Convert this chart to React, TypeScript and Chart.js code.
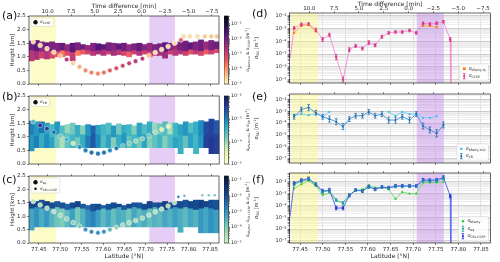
import React, { useEffect, useRef } from 'react';
import { Chart, registerables } from 'chart.js';

Chart.register(...registerables);
const FAMILY = 'DejaVu Sans';
Chart.defaults.font.family = FAMILY;
Chart.defaults.color = '#262626';

/* ---------------- data ---------------- */
const LAT_RANGE = [77.427, 77.871];
const LAT_TICKS = [77.45, 77.5, 77.55, 77.6, 77.65, 77.7, 77.75, 77.8, 77.85];
const TIME_TICKS = [10, 7.5, 5, 2.5, 0, -2.5, -5, -7.5];
const TIME_ZERO_LAT = 77.69;
const MIN_PER_DEG = 45.6;
const HEIGHT_RANGE = [0, 2.5];
const HEIGHT_TICKS = [0, 0.5, 1, 1.5, 2, 2.5];
const YELLOW_BAND = [77.431, 77.49];
const PURPLE_BAND = [77.708, 77.768];

// heat-map columns (latitude centres)
const COL_LAT = [77.433, 77.445, 77.457, 77.469, 77.481, 77.493, 77.505, 77.517, 77.529, 77.541, 77.553, 77.565, 77.577, 77.589, 77.601, 77.613, 77.625, 77.637, 77.649, 77.661, 77.673, 77.685, 77.697, 77.709, 77.721, 77.733, 77.745, 77.757, 77.769, 77.781, 77.793, 77.805, 77.817, 77.829, 77.841, 77.853, 77.865];

// panel (a) heat map: heights [km], log10 values
const A_TOP = [1.58, 1.60, 1.55, 1.52, 1.55, 1.50, 1.50, 1.45, 1.50, 1.52, 1.45, 1.42, 1.50, 1.48, 1.45, 1.52, 1.50, 1.48, 1.50, 1.45, 1.48, 1.50, 1.45, 1.50, 1.45, 1.48, 1.52, 1.50, 1.45, 1.55, 1.58, 1.52, 1.55, 1.62, 1.55, 1.60, 1.55];
const A_MID = [1.25, 1.22, 1.20, 1.25, 1.22, 1.20, 1.25, 1.22, 1.18, 1.25, 1.28, 1.25, 1.22, 1.25, 1.28, 1.22, 1.25, 1.28, 1.22, 1.20, 1.25, 1.22, 1.25, 1.20, 1.22, 1.25, 1.20, 1.25, 1.28, 1.25, 1.22, 1.28, 1.25, 1.22, 1.28, 1.25, 1.30];
const A_BOT = [0.85, 0.90, 0.95, 0.92, 0.95, 1.00, 1.00, 1.05, 0.85, 1.05, 1.10, 1.10, 1.05, 1.10, 1.05, 1.10, 1.05, 1.08, 1.05, 1.00, 1.10, 1.05, 1.10, 1.00, 1.05, 1.05, 0.95, 1.10, 1.05, 1.10, 1.05, 1.10, 1.10, 1.05, 1.10, 1.10, 1.15];
const A_VTOP = [-2.0, -1.8, -2.3, -1.9, -2.1, -2.2, -1.9, -2.4, -1.8, -2.1, -2.0, -2.4, -2.2, -1.7, -1.8, -2.1, -2.2, -1.8, -2.0, -2.4, -2.1, -1.9, -2.2, -2.4, -2.1, -2.0, -1.8, -2.2, -2.4, -2.1, -2.0, -1.8, -2.2, -2.0, -2.4, -2.1, -2.0];
const A_VBOT = [-2.8, -2.6, -3.0, -2.7, -3.1, -3.4, -3.7, -3.2, -2.9, -3.8, -3.4, -3.0, -2.8, -2.6, -2.7, -3.0, -2.6, -2.8, -3.1, -3.5, -3.0, -2.7, -3.0, -3.2, -2.8, -2.6, -2.5, -3.0, -2.8, -2.7, -3.0, -3.3, -2.9, -3.1, -3.4, -3.0, -3.2];

// panel (b) heat map
const B_TOP = [1.58, 1.55, 1.55, 1.50, 1.45, 1.55, 1.40, 1.45, 1.50, 1.42, 1.40, 1.45, 1.40, 1.42, 1.45, 1.50, 1.40, 1.48, 1.42, 1.45, 1.40, 1.50, 1.45, 1.55, 1.50, 1.48, 1.55, 1.50, 1.50, 1.45, 1.55, 1.50, 1.55, 1.60, 1.55, 1.65, 1.60];
const B_MID = [1.10, 1.05, 1.15, 1.10, 1.00, 1.10, 1.05, 1.15, 1.10, 1.00, 1.10, 1.05, 1.15, 1.10, 1.05, 1.10, 1.00, 1.10, 1.15, 1.05, 1.10, 1.00, 1.10, 1.05, 1.15, 1.10, 1.05, 1.10, 1.00, 1.10, 1.05, 1.15, 1.10, 1.05, 1.10, 1.00, 1.10];
const B_BOT = [0.48, 0.60, 0.60, 0.60, 0.60, 0.60, 0.60, 0.60, 0.60, 0.60, 0.60, 0.60, 0.60, 0.60, 0.60, 0.60, 0.60, 0.60, 0.60, 0.60, 0.60, 0.60, 0.60, 0.60, 0.60, 0.60, 0.60, 0.60, 0.60, 0.38, 0.60, 0.60, 0.38, 0.60, 0.60, 0.38, 0.38];
const B_VTOP = [-3.0, -3.2, -2.9, -3.3, -3.5, -3.2, -3.6, -4.0, -3.8, -3.4, -3.9, -3.2, -2.8, -3.3, -3.5, -3.6, -3.2, -3.8, -3.4, -3.5, -3.9, -3.3, -3.6, -3.4, -4.0, -3.8, -3.6, -4.1, -3.5, -3.3, -3.2, -3.6, -3.4, -3.1, -2.6, -2.5, -2.7];
const B_VBOT = [-3.2, -3.0, -3.4, -3.1, -3.3, -3.8, -4.1, -3.7, -3.5, -3.8, -3.4, -3.0, -2.7, -3.1, -3.6, -3.3, -3.9, -3.4, -3.2, -3.7, -3.5, -3.8, -3.3, -3.9, -3.7, -3.5, -3.9, -3.6, -3.3, -3.4, -3.7, -3.3, -3.5, -3.2, -2.5, -2.4, -2.5];

// panel (c) heat map
const C_TOP = [1.55, 1.55, 1.60, 1.55, 1.50, 1.55, 1.50, 1.45, 1.50, 1.55, 1.45, 1.40, 1.45, 1.45, 1.40, 1.45, 1.50, 1.45, 1.40, 1.45, 1.50, 1.50, 1.45, 1.55, 1.50, 1.50, 1.55, 1.50, 1.55, 1.55, 1.60, 1.55, 1.60, 1.60, 1.55, 1.60, 1.60];
const C_MID = [1.30, 1.35, 1.30, 1.25, 1.30, 1.35, 1.30, 1.25, 1.30, 1.35, 1.30, 1.25, 1.20, 1.25, 1.30, 1.25, 1.30, 1.35, 1.25, 1.30, 1.35, 1.30, 1.25, 1.30, 1.35, 1.30, 1.25, 1.30, 1.35, 1.30, 1.35, 1.30, 1.25, 1.30, 1.35, 1.30, 1.25];
const C_BOT = [0.48, 0.60, 0.60, 0.60, 0.60, 0.60, 0.60, 0.60, 0.60, 0.60, 0.60, 0.60, 0.60, 0.60, 0.60, 0.60, 0.60, 0.60, 0.60, 0.60, 0.60, 0.60, 0.60, 0.60, 0.60, 0.60, 0.60, 0.60, 0.60, 0.40, 0.60, 0.60, 0.60, 0.38, 0.38, 0.38, 0.38];
const C_VTOP = [-2.0, -1.9, -2.1, -1.8, -2.0, -2.2, -2.1, -2.3, -2.0, -1.9, -2.2, -2.4, -2.1, -2.0, -2.3, -2.1, -2.0, -1.9, -2.2, -2.0, -2.1, -2.2, -2.0, -1.9, -2.1, -2.0, -1.8, -2.0, -1.9, -2.0, -2.1, -1.9, -2.0, -1.8, -1.9, -2.0, -2.1];
const C_VBOT = [-3.3, -3.0, -3.4, -3.1, -3.5, -3.8, -4.0, -3.6, -3.2, -3.9, -3.5, -3.0, -2.8, -3.2, -3.6, -3.3, -3.7, -3.4, -3.5, -3.8, -3.3, -3.6, -3.4, -3.7, -3.5, -3.6, -3.3, -3.5, -3.2, -3.4, -3.6, -3.3, -3.5, -3.1, -3.3, -3.0, -3.2];

// flight-track points
const PT_LAT = [77.437, 77.453, 77.469, 77.485, 77.500, 77.515, 77.530, 77.545, 77.559, 77.573, 77.588, 77.602, 77.616, 77.631, 77.646, 77.661, 77.676, 77.692, 77.707, 77.722, 77.737, 77.752, 77.767, 77.782];
const PT_H = [1.55, 1.42, 1.30, 1.17, 1.03, 0.90, 0.76, 0.63, 0.50, 0.42, 0.38, 0.42, 0.50, 0.58, 0.67, 0.76, 0.84, 0.93, 1.04, 1.16, 1.27, 1.38, 1.50, 1.62];
const A_PT_LOG = [-4.6, -4.6, -4.6, -4.6, -4.3, -2.8, -4.6, -4.2, -3.9, -3.8, -3.8, -3.6, -3.4, -3.2, -3.0, -2.9, -2.8, -2.8, -4.4, -4.7, -4.7, -4.7, -4.7, -3.4];
const A_FLAT_LAT = [77.788, 77.803, 77.821, 77.838, 77.853, 77.866];
const A_FLAT_H = [1.75, 1.75, 1.75, 1.75, 1.75, 1.75];
const A_FLAT_LOG = [-4.7, -4.7, -4.7, -4.5, -4.5, -4.5];
const B_PT_LOG = [-3.6, -2.4, -2.5, -2.9, -3.8, -3.5, -4.3, -3.2, -3.0, -2.9, -2.9, -2.9, -3.1, -3.0, -3.7, -3.9, -4.0, -3.9, -3.8, -4.1, -4.5, -4.6];
const C_PT_LOG = [-4.6, -4.5, -4.4, -4.5, -4.4, -4.3, -4.2, -4.0, -3.0, -2.9, -2.9, -3.0, -3.6, -4.2, -4.4, -4.5, -4.5, -4.4, -4.5, -4.6, -4.5, -4.4, -4.5];
const C_SMALL_LAT = [77.776, 77.79, 77.832, 77.847, 77.861];
const C_SMALL_H = [1.72, 1.76, 1.78, 1.78, 1.78];
const C_SMALL_LOG = [-2.6, -3.6, -3.8, -3.9, -3.8];

// (d) sigma CCSP / bParty,iq  (log10 m^-1)
const D_CCSP_LAT = [77.428, ...PT_LAT, 77.7835];
const D_CCSP_LOG = [-5.36, -2.98, -2.68, -2.65, -3.11, -3.86, -3.5, -5.23, -6.99, -4.66, -4.36, -4.56, -4.11, -4.31, -3.65, -3.35, -3.28, -3.28, -3.16, -3.35, -2.6, -2.65, -2.6, -2.48, -3.86, -12];
const D_CCSP_ERR = [0, 0.12, 0.1, 0.1, 0.12, 0.15, 0.12, 0.2, 0.2, 0.15, 0.12, 0.12, 0.15, 0.12, 0.12, 0.1, 0.1, 0.1, 0.1, 0.1, 0.1, 0.1, 0.1, 0.1, 0.15, 0];
const D_IQ_LOG = [-3.35, -2.8, -2.73, -3.23, null, null, null, null, null, null, null, null, null, null, null, null, null, null, null, -2.8, -2.8, -2.9, null, null];

// (e) sigma CB / bParty,mix
const E_CB_LOG = [-3.46, -2.86, -2.69, -3.13, -3.46, -3.66, -3.88, -4.29, -3.66, -3.38, -3.38, -3.05, -3.38, -3.24, -3.74, -3.74, -3.46, -3.74, -3.24, -4.24, -4.57, -4.85, -4.15, null];
const E_CB_ERR = [0.2, 0.2, 0.25, 0.2, 0.2, 0.25, 0.25, 0.25, 0.2, 0.2, 0.2, 0.2, 0.2, 0.2, 0.25, 0.25, 0.2, 0.25, 0.2, 0.25, 0.25, 0.3, 0.25, 0];
const E_MIX_LOG = [-3.33, -3.24, -3.33, -3.2, -3.46, -3.05, null, null, null, null, null, null, null, null, -3.05, -3.38, -3.05, -3.24, -3.2, -3.55, -3.55, -3.43, null, null];

// (f) sigma CB+CCSP / eq / bParty
const F_CB_LAT = [77.428, ...PT_LAT, 77.7835];
const F_CB_LOG = [-4.93, -2.11, -1.86, -1.71, -2.2, -2.78, -2.69, -4.21, -4.21, -3.15, -2.69, -2.78, -2.4, -2.63, -2.43, -2.49, -2.34, -2.34, -2.34, -2.34, -1.83, -1.86, -1.83, -1.63, -3.2, -12];
const F_CB_ERR = [0, 0.12, 0.12, 0.12, 0.12, 0.15, 0.15, 0.15, 0.15, 0.12, 0.12, 0.12, 0.12, 0.12, 0.12, 0.12, 0.12, 0.12, 0.12, 0.12, 0.12, 0.12, 0.12, 0.15, 0.15, 0];
const F_EQ_LOG = [-2.2, -1.95, -1.8, -2.25, -2.85, -2.75, -3.55, -3.78, -3.1, -2.72, -2.75, -2.45, -2.6, -2.45, -2.52, -2.4, -2.38, -2.38, -2.36, -1.9, -1.92, -1.9, -1.72, null];
const F_EQ_ERR = [0.1, 0.1, 0.1, 0.1, 0.1, 0.1, 0.12, 0.12, 0.1, 0.1, 0.1, 0.1, 0.1, 0.1, 0.1, 0.1, 0.1, 0.1, 0.1, 0.1, 0.1, 0.1, 0.1, 0];
const F_BP_LOG = [-2.57, -2.2, -1.91, -2.34, -3.12, -2.92, -3.55, -3.84, -3.15, -2.72, -2.63, -2.29, -2.49, -2.49, -2.63, -3.44, -2.86, -3.0, -3.0, -2.06, -2.06, -2.06, -2.0, null];

/* ---------------- colour maps ---------------- */
const MAGMA_R = ['#fcfdbf', '#fec287', '#fb8761', '#e55064', '#b5367a', '#812581', '#4f127b', '#1c1044', '#000004'];
const YLGNBU = ['#ffffd9', '#edf8b1', '#c7e9b4', '#7fcdbb', '#41b6c4', '#1d91c0', '#225ea8', '#253494', '#081d58'];
const GNBU_D = ['#d5efcf', '#a6dbb8', '#6cc3bd', '#3a9fc4', '#2473b3', '#16488f', '#0e2a66', '#0a0f30'];

function hexRgb(h: string) { const n = parseInt(h.slice(1), 16); return [(n >> 16) & 255, (n >> 8) & 255, n & 255]; }
function cmapColor(stops: string[], t: number) {
  t = Math.min(1, Math.max(0, t));
  const p = t * (stops.length - 1);
  const i = Math.min(stops.length - 2, Math.floor(p));
  const f = p - i;
  const a = hexRgb(stops[i]), b = hexRgb(stops[i + 1]);
  return `rgb(${Math.round(a[0] + (b[0] - a[0]) * f)},${Math.round(a[1] + (b[1] - a[1]) * f)},${Math.round(a[2] + (b[2] - a[2]) * f)})`;
}

/* ---------------- text helpers ---------------- */
const SUP: any = { '-': '⁻', '0': '⁰', '1': '¹', '2': '²', '3': '³', '4': '⁴', '5': '⁵', '6': '⁶', '7': '⁷', '8': '⁸', '9': '⁹' };
const sup = (s: string) => s.split('').map(c => SUP[c] ?? c).join('');
const isDecade = (v: number) => Math.abs(Math.log10(v) - Math.round(Math.log10(v))) < 1e-6;
const sciLabel = (v: number) => (isDecade(v) ? '10' + sup(String(Math.round(Math.log10(v)))) : '');

function parseRich(s: string) {
  const out: { t: string; m: number }[] = [];
  let buf = '';
  let i = 0;
  while (i < s.length) {
    const c = s[i];
    if ((c === '_' || c === '^') && s[i + 1] === '{') {
      if (buf) { out.push({ t: buf, m: 0 }); buf = ''; }
      const end = s.indexOf('}', i);
      out.push({ t: s.slice(i + 2, end), m: c === '_' ? 1 : 2 });
      i = end + 1;
    } else { buf += c; i++; }
  }
  if (buf) out.push({ t: buf, m: 0 });
  return out;
}
function richWidth(ctx: CanvasRenderingContext2D, s: string, size: number) {
  let w = 0;
  parseRich(s).forEach(g => { ctx.font = `${g.m ? size * 0.7 : size}px "${FAMILY}"`; w += ctx.measureText(g.t).width; });
  return w;
}
function drawRich(ctx: CanvasRenderingContext2D, s: string, x: number, y: number, size: number, align: string, color: string) {
  const w = richWidth(ctx, s, size);
  let cx = align === 'center' ? x - w / 2 : align === 'right' ? x - w : x;
  ctx.fillStyle = color;
  ctx.textBaseline = 'middle';
  ctx.textAlign = 'left';
  parseRich(s).forEach(g => {
    const fs = g.m ? size * 0.7 : size;
    ctx.font = `${fs}px "${FAMILY}"`;
    const dy = g.m === 1 ? size * 0.3 : g.m === 2 ? -size * 0.35 : 0;
    ctx.fillText(g.t, cx, y + dy);
    cx += ctx.measureText(g.t).width;
  });
}

/* ---------------- plugins ---------------- */
const bandsPlugin = {
  id: 'bands',
  beforeDatasetsDraw(chart: any, _a: any, opts: any) {
    if (!opts || !opts.list) return;
    const { ctx, chartArea: a, scales } = chart;
    const x = scales.x;
    ctx.save();
    opts.list.forEach((b: any) => {
      const x0 = Math.max(a.left, x.getPixelForValue(b.range[0]));
      const x1 = Math.min(a.right, x.getPixelForValue(b.range[1]));
      ctx.fillStyle = b.color;
      ctx.fillRect(x0, a.top, x1 - x0, a.bottom - a.top);
    });
    ctx.restore();
  },
};
const framePlugin = {
  id: 'frame',
  afterDatasetsDraw(chart: any) {
    const { ctx, chartArea: a } = chart;
    ctx.save();
    ctx.strokeStyle = '#262626';
    ctx.lineWidth = 0.7;
    ctx.strokeRect(a.left, a.top, a.right - a.left, a.bottom - a.top);
    ctx.restore();
  },
};
const errPlugin = {
  id: 'errbars',
  afterDatasetsDraw(chart: any) {
    const { ctx, chartArea: a, scales } = chart;
    const x = scales.x, y = scales.y;
    ctx.save();
    ctx.beginPath();
    ctx.rect(a.left, a.top, a.right - a.left, a.bottom - a.top);
    ctx.clip();
    chart.data.datasets.forEach((ds: any) => {
      const err = ds.errLog;
      if (!err) return;
      ctx.strokeStyle = ds.errColor;
      ctx.lineWidth = 0.8;
      ds.data.forEach((d: any, i: number) => {
        const e = err[i];
        if (!e || d.y == null) return;
        const px = x.getPixelForValue(d.x);
        const p1 = y.getPixelForValue(d.y * Math.pow(10, e));
        const p2 = y.getPixelForValue(d.y / Math.pow(10, e));
        ctx.beginPath();
        ctx.moveTo(px, p1); ctx.lineTo(px, p2);
        ctx.moveTo(px - 1.3, p1); ctx.lineTo(px + 1.3, p1);
        ctx.moveTo(px - 1.3, p2); ctx.lineTo(px + 1.3, p2);
        ctx.stroke();
      });
    });
    ctx.restore();
  },
};
function drawMarker(ctx: CanvasRenderingContext2D, it: any, mx: number, cy: number) {
  ctx.fillStyle = it.color;
  ctx.strokeStyle = it.color;
  if (it.kind === 'dot') {
    ctx.beginPath(); ctx.arc(mx, cy, it.r || 1.3, 0, Math.PI * 2); ctx.fill();
  } else if (it.kind === 'rect') {
    const r = it.r || 1.4; ctx.fillRect(mx - r, cy - r, 2 * r, 2 * r);
  } else if (it.kind === 'err') {
    ctx.lineWidth = 0.8;
    ctx.beginPath();
    ctx.moveTo(mx, cy - 2.6); ctx.lineTo(mx, cy + 2.6);
    ctx.moveTo(mx - 1.2, cy - 2.6); ctx.lineTo(mx + 1.2, cy - 2.6);
    ctx.moveTo(mx - 1.2, cy + 2.6); ctx.lineTo(mx + 1.2, cy + 2.6);
    ctx.stroke();
    ctx.beginPath(); ctx.arc(mx, cy, 1.1, 0, Math.PI * 2); ctx.fill();
  }
}
const legendPlugin = {
  id: 'boxLegend',
  afterDraw(chart: any, _a: any, opts: any) {
    if (!opts || !opts.items) return;
    const { ctx, chartArea: a } = chart;
    const fs = opts.fontSize || 4.3;
    const rowH = opts.rowH || 7;
    const mw = opts.markerW || 5;
    ctx.save();
    let tw = 0;
    opts.items.forEach((it: any) => { tw = Math.max(tw, richWidth(ctx, it.label, fs)); });
    const w = 2 + mw + 2 + tw + 3;
    const h = rowH * opts.items.length + 2;
    const x0 = opts.corner === 'tl' ? a.left + 2 : a.right - 2 - w;
    const y0 = opts.corner === 'tl' ? a.top + 2 : a.bottom - 2 - h;
    ctx.fillStyle = 'rgba(255,255,255,0.85)';
    ctx.strokeStyle = '#cfcfcf';
    ctx.lineWidth = 0.5;
    ctx.beginPath();
    if ((ctx as any).roundRect) (ctx as any).roundRect(x0, y0, w, h, 1.2); else ctx.rect(x0, y0, w, h);
    ctx.fill(); ctx.stroke();
    opts.items.forEach((it: any, i: number) => {
      const cy = y0 + 1 + rowH * (i + 0.5);
      drawMarker(ctx, it, x0 + 2 + mw / 2, cy);
      drawRich(ctx, it.label, x0 + 2 + mw + 2, cy, fs, 'left', '#262626');
    });
    ctx.restore();
  },
};
const sideTitlePlugin = {
  id: 'sideTitle',
  afterDraw(chart: any, _a: any, opts: any) {
    if (!opts || !opts.text) return;
    const { ctx, chartArea: a } = chart;
    ctx.save();
    ctx.translate(opts.x, (a.top + a.bottom) / 2);
    ctx.rotate(-Math.PI / 2);
    drawRich(ctx, opts.text, 0, 0, opts.size || 5, 'center', '#262626');
    ctx.restore();
  },
};
const cbarPlugin = {
  id: 'cbar',
  beforeDatasetsDraw(chart: any, _a: any, opts: any) {
    if (!opts || !opts.stops) return;
    const { ctx, chartArea: a } = chart;
    const g = ctx.createLinearGradient(0, a.bottom, 0, a.top);
    const n = opts.stops.length;
    opts.stops.forEach((c: string, i: number) => g.addColorStop(i / (n - 1), c));
    ctx.save();
    ctx.fillStyle = g;
    ctx.fillRect(a.left, a.top, a.right - a.left, a.bottom - a.top);
    ctx.restore();
  },
};

/* ---------------- axes ---------------- */
const tickFont = { size: 5.5, family: FAMILY };
const timeAt = (lat: number) => (TIME_ZERO_LAT - lat) * MIN_PER_DEG;

function latAxis(showLabels: boolean, onArea: boolean, h: number) {
  return {
    type: 'linear', position: 'bottom', min: LAT_RANGE[0], max: LAT_RANGE[1], offset: false,
    afterBuildTicks: (s: any) => { s.ticks = LAT_TICKS.map(value => ({ value })); },
    afterFit: (s: any) => { s.height = h; },
    ticks: { display: showLabels, font: tickFont, padding: 1, maxRotation: 0, autoSkip: false, callback: (v: number) => v.toFixed(2) },
    grid: { display: true, offset: false, drawOnChartArea: onArea, color: '#d0d0d0', lineWidth: 0.6, tickLength: 2, tickColor: '#333', tickWidth: 0.6 },
    border: { display: false },
    title: { display: showLabels, text: 'Latitude [°N]', font: { size: 6, family: FAMILY }, padding: { top: 0, bottom: 1.5 } },
  };
}
function timeAxis(showLabels: boolean, h: number) {
  return {
    type: 'linear', position: 'top', reverse: true, offset: false,
    min: timeAt(LAT_RANGE[1]), max: timeAt(LAT_RANGE[0]),
    afterBuildTicks: (s: any) => { s.ticks = TIME_TICKS.map(value => ({ value })); },
    afterFit: (s: any) => { s.height = h; },
    ticks: { display: showLabels, font: { size: 5.5, family: FAMILY, lineHeight: 1 }, padding: 0, maxRotation: 0, autoSkip: false, callback: (v: number) => v.toFixed(1).replace('-', '−') },
    grid: { offset: false, drawOnChartArea: false, tickLength: 1.8, tickColor: '#333', tickWidth: 0.6 },
    border: { display: false },
    title: { display: showLabels, text: 'Time difference [min]', font: { size: 6, family: FAMILY, lineHeight: 1 }, padding: { top: 0, bottom: 0 } },
  };
}
function logTicks(min: number, max: number) {
  const out: any[] = [];
  for (let e = Math.floor(Math.log10(min)); e <= Math.ceil(Math.log10(max)); e++) {
    for (let m = 1; m < 10; m++) {
      const v = m * Math.pow(10, e);
      if (v >= min * 0.9999 && v <= max * 1.0001) out.push({ value: v, major: m === 1 });
    }
  }
  return out;
}

/* ---------------- chart configs ---------------- */
function heatConfig(p: any) {
  const col = (v: number) => cmapColor(p.cmap, (v - p.vmin) / (p.vmax - p.vmin));
  const pointSets = p.points.map((ps: any, k: number) => ({
    type: 'scatter', order: k,
    data: ps.lat.map((x: number, i: number) => ({ x, y: ps.h[i] })),
    pointRadius: ps.r, pointHoverRadius: ps.r,
    pointBackgroundColor: ps.log.map(col),
    pointBorderColor: ps.edge, pointBorderWidth: ps.edgeW,
  }));
  const bars = [
    { lo: p.mid, hi: p.top, v: p.vTop },
    { lo: p.bot, hi: p.mid, v: p.vBot },
  ].map((s, k) => ({
    type: 'bar', order: 10 + k, grouped: false, barPercentage: 1, categoryPercentage: 1, borderWidth: 0,
    data: COL_LAT.map((x, i) => ({ x, y: [s.lo[i], s.hi[i]] })),
    backgroundColor: s.v.map(col),
  }));
  return {
    type: 'bar',
    data: { datasets: [...pointSets, ...bars] },
    options: {
      responsive: false, animation: false, events: [],
      layout: { padding: { left: 9, right: 1, top: p.padTop, bottom: p.padBottom } },
      plugins: {
        legend: { display: false }, tooltip: { enabled: false },
        bands: { list: [{ range: YELLOW_BAND, color: '#fdfbc6' }, { range: PURPLE_BAND, color: '#e5cdf5' }] },
        boxLegend: { corner: 'tl', items: p.legend, fontSize: 4.2, rowH: 6.5, markerW: 5 },
      },
      scales: {
        x: latAxis(p.latLabels, false, p.botH),
        x2: timeAxis(p.timeLabels, p.topH),
        y: {
          type: 'linear', min: HEIGHT_RANGE[0], max: HEIGHT_RANGE[1],
          afterBuildTicks: (s: any) => { s.ticks = HEIGHT_TICKS.map(value => ({ value })); },
          afterFit: (s: any) => { s.width = 20; },
          ticks: { font: tickFont, padding: 1.2, autoSkip: false, callback: (v: number) => v.toFixed(1) },
          grid: { drawOnChartArea: false, tickLength: 2, tickColor: '#333', tickWidth: 0.6 },
          border: { display: false },
          title: { display: true, text: 'Height [km]', font: { size: 5.5, family: FAMILY }, padding: 0 },
        },
      },
    },
    plugins: [bandsPlugin, framePlugin, legendPlugin],
  };
}

function lineDs(lat: number[], logs: (number | null)[], o: any) {
  return {
    type: 'line', order: o.order,
    data: lat.map((x, i) => ({ x, y: logs[i] == null ? null : Math.pow(10, logs[i] as number) })),
    borderColor: o.line, borderWidth: o.lw, tension: 0,
    pointRadius: o.radius, pointHoverRadius: o.radius, pointStyle: o.style || 'circle',
    pointBackgroundColor: o.color, pointBorderWidth: 0,
    errLog: o.err, errColor: o.color,
  };
}

function lineConfig(p: any) {
  const min = Math.pow(10, p.yRange[0]), max = Math.pow(10, p.yRange[1]);
  return {
    type: 'line',
    data: { datasets: p.datasets },
    options: {
      responsive: false, animation: false, events: [],
      layout: { padding: { left: 14, right: 9.5, top: p.padTop, bottom: p.padBottom } },
      plugins: {
        legend: { display: false }, tooltip: { enabled: false },
        bands: { list: [{ range: YELLOW_BAND, color: 'rgba(255,248,140,0.45)' }, { range: PURPLE_BAND, color: 'rgba(195,140,235,0.45)' }] },
        boxLegend: { corner: 'br', items: p.legend, fontSize: 4.5, rowH: 7.5, markerW: 5 },
        sideTitle: { text: 'σ_{SU} [m^{-1}]', x: 7, size: 5 },
      },
      scales: {
        x: latAxis(p.latLabels, true, p.botH),
        x2: timeAxis(p.timeLabels, p.topH),
        y: {
          type: 'logarithmic', min, max,
          afterBuildTicks: (s: any) => { s.ticks = logTicks(min, max); },
          afterFit: (s: any) => { s.width = 25.6; },
          ticks: { font: { size: 5, family: FAMILY }, padding: 1, autoSkip: false, callback: (v: number) => sciLabel(v) },
          grid: { color: (c: any) => (c.tick && c.tick.major ? '#b4b4b4' : '#e3e3e3'), lineWidth: 0.6, tickLength: 2, tickColor: '#333', tickWidth: 0.5 },
          border: { display: false },
        },
      },
    },
    plugins: [bandsPlugin, errPlugin, framePlugin, legendPlugin, sideTitlePlugin],
  };
}

function cbarConfig(p: any) {
  const min = Math.pow(10, p.vmin), max = Math.pow(10, p.vmax);
  return {
    type: 'scatter',
    data: { datasets: [] },
    options: {
      responsive: false, animation: false, events: [],
      layout: { padding: { top: 4, bottom: 4, left: 0, right: 0 } },
      plugins: {
        legend: { display: false }, tooltip: { enabled: false },
        cbar: { stops: p.cmap },
        sideTitle: { text: p.title, x: 23.5, size: 4.2 },
      },
      scales: {
        x: { display: false },
        y: {
          type: 'logarithmic', position: 'right', min, max,
          afterBuildTicks: (s: any) => { s.ticks = logTicks(min, max); },
          afterFit: (s: any) => { s.width = 21.5; },
          ticks: { font: { size: 4.8, family: FAMILY }, padding: 1, autoSkip: false, callback: (v: number) => sciLabel(v) },
          grid: { drawOnChartArea: false, tickLength: 1.5, tickColor: '#333', tickWidth: 0.5 },
          border: { display: false },
        },
      },
    },
    plugins: [cbarPlugin, framePlugin, sideTitlePlugin],
  };
}

/* ---------------- components ---------------- */
function ChartCanvas({ left, top, width, height, make }: any) {
  const ref = useRef<HTMLCanvasElement>(null);
  useEffect(() => {
    const c = new Chart(ref.current as HTMLCanvasElement, make());
    return () => c.destroy();
  }, []);
  return <canvas ref={ref} width={width} height={height} style={{ position: 'absolute', left, top, width, height }} />;
}

const EDGE = 'rgba(238,238,238,0.95)';

export default function App() {
  const panelA = () => heatConfig({
    top: A_TOP, mid: A_MID, bot: A_BOT, vTop: A_VTOP, vBot: A_VBOT, cmap: MAGMA_R, vmin: -5, vmax: -0.5,
    points: [
      { lat: PT_LAT, h: PT_H, log: A_PT_LOG, r: 2.3, edge: EDGE, edgeW: 0.7 },
      { lat: A_FLAT_LAT, h: A_FLAT_H, log: A_FLAT_LOG, r: 2.3, edge: EDGE, edgeW: 0.7 },
    ],
    legend: [{ kind: 'dot', r: 2.2, color: '#111', label: 'σ_{CCSP}' }],
    timeLabels: true, latLabels: false, padTop: 0, topH: 13, padBottom: 3, botH: 2,
  });
  const panelB = () => heatConfig({
    top: B_TOP, mid: B_MID, bot: B_BOT, vTop: B_VTOP, vBot: B_VBOT, cmap: YLGNBU, vmin: -5, vmax: -2,
    points: [{ lat: PT_LAT.slice(0, B_PT_LOG.length), h: PT_H, log: B_PT_LOG, r: 2.3, edge: EDGE, edgeW: 0.5 }],
    legend: [{ kind: 'dot', r: 2.2, color: '#111', label: 'σ_{CB}' }],
    timeLabels: false, latLabels: false, padTop: 4, topH: 2, padBottom: 3, botH: 2,
  });
  const panelC = () => heatConfig({
    top: C_TOP, mid: C_MID, bot: C_BOT, vTop: C_VTOP, vBot: C_VBOT, cmap: GNBU_D, vmin: -5, vmax: -0.75,
    points: [
      { lat: PT_LAT.slice(0, C_PT_LOG.length), h: PT_H, log: C_PT_LOG, r: 2.3, edge: EDGE, edgeW: 0.7 },
      { lat: C_SMALL_LAT, h: C_SMALL_H, log: C_SMALL_LOG, r: 1.3, edge: EDGE, edgeW: 0.3 },
    ],
    legend: [
      { kind: 'dot', r: 2.2, color: '#111', label: 'σ_{eq}' },
      { kind: 'dot', r: 1.3, color: '#111', label: 'σ_{CB+CCSP}' },
    ],
    timeLabels: false, latLabels: true, padTop: 4, topH: 2, padBottom: 0, botH: 19,
  });

  const panelD = () => lineConfig({
    datasets: [
      lineDs(PT_LAT, D_IQ_LOG, { order: 0, line: '#ffa040', lw: 0.8, radius: 1.5, style: 'rect', color: '#ff7f0e' }),
      lineDs(D_CCSP_LAT, D_CCSP_LOG, { order: 1, line: '#f08ad2', lw: 0.9, radius: D_CCSP_LOG.map((_, i) => (D_CCSP_ERR[i] ? 1.2 : 0)), color: '#d9338a', err: D_CCSP_ERR }),
    ],
    yRange: [-7.25, -1.8],
    legend: [
      { kind: 'rect', r: 1.4, color: '#ff7f0e', label: 'σ_{bParty,iq}' },
      { kind: 'err', color: '#d9338a', label: 'σ_{CCSP}' },
    ],
    timeLabels: true, latLabels: false, padTop: 0, topH: 12, padBottom: 3, botH: 2,
  });
  const panelE = () => lineConfig({
    datasets: [
      lineDs(PT_LAT, E_CB_LOG, { order: 0, line: '#3f8fd4', lw: 0.9, radius: 1.1, color: '#1f6db2', err: E_CB_ERR }),
      lineDs(PT_LAT, E_MIX_LOG, { order: 1, line: '#62cbf4', lw: 0.8, radius: 1.1, color: '#3bbaef' }),
    ],
    yRange: [-7.35, -1.55],
    legend: [
      { kind: 'dot', r: 1.2, color: '#3bbaef', label: 'σ_{bParty,mix}' },
      { kind: 'err', color: '#1f6db2', label: 'σ_{CB}' },
    ],
    timeLabels: false, latLabels: false, padTop: 4, topH: 2, padBottom: 3, botH: 2,
  });
  const panelF = () => lineConfig({
    datasets: [
      lineDs(F_CB_LAT, F_CB_LOG, { order: 0, line: '#5b6cf0', lw: 1.0, radius: F_CB_LOG.map((_, i) => (F_CB_ERR[i] ? 1.3 : 0)), color: '#2233dd', err: F_CB_ERR }),
      lineDs(PT_LAT, F_EQ_LOG, { order: 1, line: '#45b8b2', lw: 0.9, radius: 1.1, color: '#27a1a1', err: F_EQ_ERR }),
      lineDs(PT_LAT, F_BP_LOG, { order: 2, line: '#5ddc5d', lw: 0.8, radius: 1.1, color: '#2fcc2f' }),
    ],
    yRange: [-7.17, -1.25],
    legend: [
      { kind: 'dot', r: 1.2, color: '#2fcc2f', label: 'σ_{bParty}' },
      { kind: 'err', color: '#27a1a1', label: 'σ_{eq}' },
      { kind: 'err', color: '#2233dd', label: 'σ_{CB+CCSP}' },
    ],
    timeLabels: false, latLabels: true, padTop: 4, topH: 2, padBottom: 0, botH: 19,
  });

  const labels = [
    { t: '(a)', x: 2, y: 9.5 }, { t: '(b)', x: 2, y: 91 }, { t: '(c)', x: 2, y: 174 },
    { t: '(d)', x: 252, y: 8 }, { t: '(e)', x: 252, y: 91 }, { t: '(f)', x: 252, y: 174 },
  ];

  return (
    <div style={{ position: 'fixed', left: 0, top: 0, width: 500, height: 262, background: '#fff', overflow: 'hidden' }}>
      <ChartCanvas left={0} top={3} width={222} height={86} make={panelA} />
      <ChartCanvas left={0} top={90} width={222} height={79} make={panelB} />
      <ChartCanvas left={0} top={170} width={222} height={92} make={panelC} />
      <ChartCanvas left={224} top={12} width={26} height={76} make={() => cbarConfig({ cmap: MAGMA_R, vmin: -5, vmax: -0.5, title: 'σ_{bParty,iq} & σ_{CCSP} [m^{-1}]' })} />
      <ChartCanvas left={224} top={92} width={26} height={76} make={() => cbarConfig({ cmap: YLGNBU, vmin: -5, vmax: -2, title: 'σ_{bParty,mix} & σ_{CB} [m^{-1}]' })} />
      <ChartCanvas left={224} top={172} width={26} height={75} make={() => cbarConfig({ cmap: GNBU_D, vmin: -5, vmax: -0.75, title: 'σ_{bParty}, σ_{CB+CCSP} & σ_{eq} [m^{-1}]' })} />
      <ChartCanvas left={250} top={1} width={250} height={87} make={panelD} />
      <ChartCanvas left={250} top={88} width={250} height={80} make={panelE} />
      <ChartCanvas left={250} top={167} width={250} height={95} make={panelF} />
      {labels.map(l => (
        <div key={l.t} style={{ position: 'absolute', left: l.x, top: l.y, fontFamily: FAMILY, fontSize: 11, lineHeight: '12px', color: '#111' }}>{l.t}</div>
      ))}
    </div>
  );
}
